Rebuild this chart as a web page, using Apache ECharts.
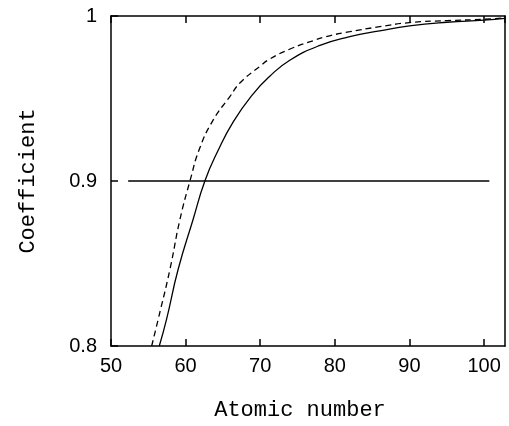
<!DOCTYPE html>
<html><head><meta charset="utf-8">
<script src="https://cdn.jsdelivr.net/npm/echarts@6/dist/echarts.min.js"></script>
<style>html,body{margin:0;padding:0;background:#fff}#c{width:509px;height:426px}</style>
</head><body><div id="c"></div>
<script>
const xTicks = [50, 60, 70, 80, 90, 100];
const yTicks = [0.8, 0.9, 1];
const solidX = [56.47, 57.45, 59.0, 61.0, 62.58, 64.3, 66.4, 69.0, 71.28, 73.96, 78.0, 82.0, 86, 90, 95, 100, 102.8];
const solidY = [0.800, 0.8163, 0.8465, 0.8767, 0.900, 0.918, 0.936, 0.9525, 0.9635, 0.9732, 0.9822, 0.9875, 0.991, 0.994, 0.9962, 0.9975, 0.9985];
const dashedX = [55.45, 56.33, 57.9, 59.24, 60.58, 61.9, 63.7, 65.9, 67.3, 69.95, 71.3, 74.0, 76.6, 79.3, 82, 86, 90, 95, 100, 102.8];
const dashedY = [0.800, 0.8163, 0.8465, 0.8767, 0.900, 0.920, 0.937, 0.951, 0.9595, 0.9695, 0.974, 0.980, 0.9843, 0.988, 0.9905, 0.9935, 0.996, 0.9972, 0.998, 0.999];
const refX = [52.3, 100.7];
const refY = [0.9, 0.9];

const zip = (a, b) => a.map((v, i) => [v, b[i]]);
const chart = echarts.init(document.getElementById('c'), null, {renderer: 'canvas'});
const lineCol = '#000';
const labelFont = {fontFamily: 'Liberation Sans', fontSize: 20, color: '#000'};
chart.setOption({
  animation: false,
  backgroundColor: '#fff',
  grid: {left: 111, right: 4, top: 16, bottom: 79, containLabel: false},
  xAxis: [{
    type: 'value', position: 'bottom', min: 50, max: 102.8, interval: 10,
    axisLine: {show: true, lineStyle: {color: lineCol, width: 1.5}},
    axisTick: {show: true, inside: true, length: 7, lineStyle: {color: lineCol, width: 1.5}},
    axisLabel: Object.assign({margin: 10, showMaxLabel: false,
      formatter: v => xTicks.includes(Math.round(v*100)/100) ? String(v) : ''}, labelFont),
    splitLine: {show: false},
    name: 'Atomic number', nameLocation: 'middle', nameGap: 53,
    nameTextStyle: {fontFamily: 'Liberation Mono', fontSize: 22, color: '#000', padding: [0, 16, 0, 0]}
  }, {
    type: 'value', position: 'top', min: 50, max: 102.8, interval: 10,
    axisLine: {show: true, lineStyle: {color: lineCol, width: 1.5}},
    axisTick: {show: true, inside: true, length: 7, lineStyle: {color: lineCol, width: 1.5}},
    axisLabel: {show: false}, splitLine: {show: false}
  }],
  yAxis: [{
    type: 'value', position: 'left', min: 0.8, max: 1, interval: 0.1,
    axisLine: {show: true, lineStyle: {color: lineCol, width: 1.5}},
    axisTick: {show: true, inside: true, length: 7, lineStyle: {color: lineCol, width: 1.5}},
    axisLabel: Object.assign({margin: 14,
      formatter: v => { const r = Math.round(v*10)/10; return yTicks.includes(r) ? (r === 1 ? '1' : r.toFixed(1)) : ''; }}, labelFont),
    splitLine: {show: false},
    name: 'Coefficient', nameLocation: 'middle', nameGap: 72, nameRotate: 90,
    nameTextStyle: {fontFamily: 'Liberation Mono', fontSize: 22, color: '#000'}
  }, {
    type: 'value', position: 'right', min: 0.8, max: 1, interval: 0.1,
    axisLine: {show: true, lineStyle: {color: lineCol, width: 1.5}},
    axisTick: {show: false}, axisLabel: {show: false}, splitLine: {show: false}
  }],
  series: [{
    type: 'line', data: zip(solidX, solidY), smooth: 0.5, symbol: 'none', clip: true,
    lineStyle: {color: lineCol, width: 1.3}
  }, {
    type: 'line', data: zip(dashedX, dashedY), smooth: 0.5, symbol: 'none', clip: true,
    lineStyle: {color: lineCol, width: 1.3, type: [6, 4]}
  }, {
    type: 'line', data: zip(refX, refY), symbol: 'none',
    lineStyle: {color: lineCol, width: 1.5}
  }]
});
</script></body></html>
